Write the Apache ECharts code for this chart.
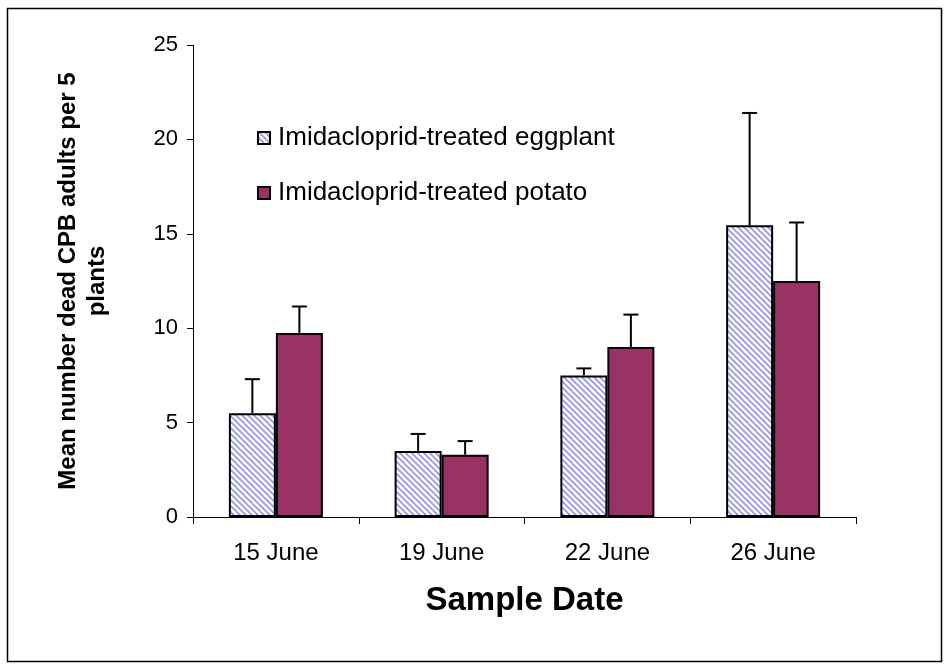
<!DOCTYPE html>
<html>
<head>
<meta charset="utf-8">
<script src="https://cdn.jsdelivr.net/npm/echarts@6/dist/echarts.min.js"></script>
<style>
  html, body { margin: 0; padding: 0; background: #fff; }
  #chart { width: 949px; height: 667px; }
</style>
</head>
<body>
<div id="chart"></div>
<script>
// Sample dates and mean dead adult counts (with upper error) per treatment
const categories = ['15 June', '19 June', '22 June', '26 June'];
const eggplantMean = [5.5, 3.5, 7.5, 15.45];
const eggplantErr = [1.8, 0.9, 0.37, 5.95];
const potatoMean = [9.75, 3.3, 9.0, 12.5];
const potatoErr = [1.4, 0.72, 1.72, 3.1];
const yTicks = [0, 5, 10, 15, 20, 25];

const FONT = '"Liberation Sans", Arial, sans-serif';
const BAR_W = 47;

// Diagonal hatch fill (lavender stripes on white)
function makeHatch() {
  const size = 6;
  const c = document.createElement('canvas');
  c.width = size; c.height = size;
  const ctx = c.getContext('2d');
  const img = ctx.createImageData(size, size);
  for (let y = 0; y < size; y++) {
    for (let x = 0; x < size; x++) {
      const i = (y * size + x) * 4;
      const k = (x - y + 12) % 6;
      let col = [255, 255, 255];
      if (k === 0 || k === 1) col = [0x99, 0x99, 0xf6];
      else if (k === 2) col = [0xc8, 0xc8, 0xfa];
      img.data[i] = col[0];
      img.data[i + 1] = col[1];
      img.data[i + 2] = col[2];
      img.data[i + 3] = 255;
    }
  }
  ctx.putImageData(img, 0, 0);
  return c;
}
const hatch = { image: makeHatch(), repeat: 'repeat' };

function errorSeries(means, errs, offset) {
  return {
    type: 'custom',
    silent: true,
    z: 5,
    data: means.map((m, i) => [i, m, m + errs[i]]),
    renderItem: function (params, api) {
      const base = api.coord([api.value(0), api.value(1)]);
      const top = api.coord([api.value(0), api.value(2)]);
      const x = base[0] + offset;
      const cap = 7.5;
      const style = { stroke: '#000', lineWidth: 2 };
      return {
        type: 'group',
        children: [
          { type: 'line', shape: { x1: x, y1: base[1], x2: x, y2: top[1] }, style: style },
          { type: 'line', shape: { x1: x - cap, y1: top[1], x2: x + cap, y2: top[1] }, style: style }
        ]
      };
    }
  };
}

const chart = echarts.init(document.getElementById('chart'), null, { renderer: 'canvas' });
chart.setOption({
  animation: false,
  backgroundColor: '#fff',
  graphic: [{
    type: 'rect',
    shape: { x: 7.5, y: 8.5, width: 934, height: 653 },
    style: { fill: 'none', stroke: '#000', lineWidth: 1.5 },
    silent: true
  }],
  grid: { left: 193, right: 93, top: 45, bottom: 150 },
  legend: {
    orient: 'vertical',
    left: 252,
    top: 120,
    itemWidth: 12,
    itemHeight: 12,
    itemGap: 29,
    icon: 'rect',
    textStyle: { fontFamily: FONT, fontSize: 26, lineHeight: 26, color: '#000', padding: [0, 0, 0, 3] },
    data: ['Imidacloprid-treated eggplant', 'Imidacloprid-treated potato']
  },
  xAxis: {
    type: 'category',
    data: categories,
    name: 'Sample Date',
    nameLocation: 'middle',
    nameGap: 67,
    nameTextStyle: { fontFamily: FONT, fontSize: 33, fontWeight: 'bold', color: '#000' },
    axisLine: { lineStyle: { color: '#000', width: 1 } },
    axisTick: { show: true, length: 7, inside: false, lineStyle: { color: '#000' } },
    axisLabel: { fontFamily: FONT, fontSize: 24, color: '#000', margin: 24 }
  },
  yAxis: {
    type: 'value',
    min: yTicks[0],
    max: yTicks[yTicks.length - 1],
    interval: 5,
    name: 'Mean number dead CPB adults per 5\nplants',
    nameLocation: 'middle',
    nameGap: 81,
    nameRotate: 90,
    nameTextStyle: { fontFamily: FONT, fontSize: 24, fontWeight: 'bold', color: '#000', lineHeight: 29, align: 'center' },
    splitLine: { show: false },
    axisLine: { show: true, lineStyle: { color: '#000', width: 1 } },
    axisTick: { show: true, length: 6, inside: false, lineStyle: { color: '#000' } },
    axisLabel: { fontFamily: FONT, fontSize: 22, color: '#000', margin: 15 }
  },
  series: [
    {
      name: 'Imidacloprid-treated eggplant',
      type: 'bar',
      data: eggplantMean,
      barWidth: BAR_W,
      barGap: '0%',
      itemStyle: { color: hatch, borderColor: '#000', borderWidth: 2 }
    },
    {
      name: 'Imidacloprid-treated potato',
      type: 'bar',
      data: potatoMean,
      barWidth: BAR_W,
      barGap: '0%',
      itemStyle: { color: '#993366', borderColor: '#000', borderWidth: 2 }
    },
    errorSeries(eggplantMean, eggplantErr, -BAR_W / 2),
    errorSeries(potatoMean, potatoErr, BAR_W / 2)
  ]
});
</script>
</body>
</html>
